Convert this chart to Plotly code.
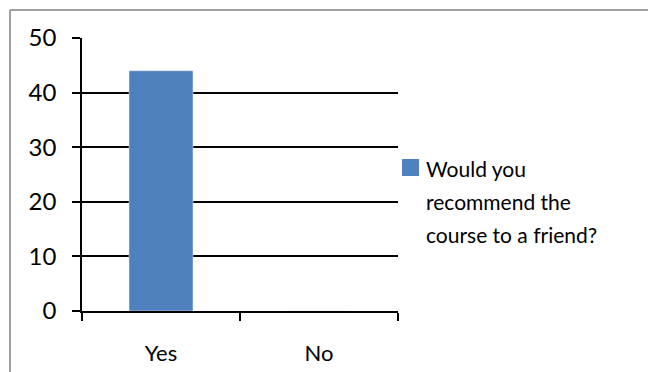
import plotly.graph_objects as go

categories = ["Yes", "No"]
values = [44, 0]
series_lines = ["Would you", "recommend the", "course to a friend?"]
y_ticks = [0, 10, 20, 30, 40, 50]

BAR_COLOR = "#4f81bd"
FONT = "Lato"
TICK_FS = 24
LEG_FS = 21

W, H = 648, 372
L, R, T, B = 82, 250, 38, 61
pw, ph = W - L - R, H - T - B

def px_x(x):
    return (x - L) / pw

def px_y(y):
    return (H - B - y) / ph

fig = go.Figure()
fig.add_trace(go.Bar(x=categories, y=values, marker_color=BAR_COLOR,
                     showlegend=False, name=" ".join(series_lines)))

# legend (Excel style: square + wrapped text)
shapes = [
    dict(type="rect", xref="paper", yref="paper", x0=px_x(402), x1=px_x(419),
         y0=px_y(176), y1=px_y(159), fillcolor=BAR_COLOR, line=dict(width=0)),
    dict(type="line", xref="paper", yref="paper", x0=px_x(10), x1=px_x(10),
         y0=px_y(10), y1=px_y(400), line=dict(color="#a0a0a0", width=2)),
    dict(type="line", xref="paper", yref="paper", x0=px_x(10), x1=px_x(660),
         y0=px_y(10), y1=px_y(10), line=dict(color="#a0a0a0", width=2)),
]
annotations = []
baselines = [175, 208, 241]
for line, base in zip(series_lines, baselines):
    annotations.append(dict(text=line, xref="paper", yref="paper",
                            x=px_x(424), y=px_y(base - 7), xanchor="left",
                            yanchor="middle", showarrow=False,
                            font=dict(family=FONT, size=LEG_FS, color="black")))

fig.update_layout(
    width=W, height=H,
    margin=dict(l=L, r=R, t=T, b=B, autoexpand=False),
    paper_bgcolor="white", plot_bgcolor="white",
    font=dict(family=FONT, size=TICK_FS, color="black"),
    bargap=0.595,
    showlegend=False,
    xaxis=dict(type="category", categoryorder="array", categoryarray=categories,
               range=[-0.5, 1.5], showline=True, linecolor="black", linewidth=1.5,
               ticks="outside", tickson="boundaries", ticklen=8, tickcolor="black",
               tickwidth=1.5, showgrid=False, ticklabelstandoff=22, fixedrange=True,
               automargin=False, tickfont=dict(family=FONT, size=22)),
    yaxis=dict(range=[0, 50], tickvals=y_ticks, showline=True, linecolor="black",
               linewidth=1.5, ticks="outside", ticklen=8, tickcolor="black",
               tickwidth=1.5, showgrid=True, gridcolor="black", gridwidth=1.5,
               zeroline=False, ticklabelstandoff=11, fixedrange=True,
               automargin=False, tickfont=dict(family=FONT, size=TICK_FS)),
    shapes=shapes,
    annotations=annotations,
)

fig.write_html("out.html")
